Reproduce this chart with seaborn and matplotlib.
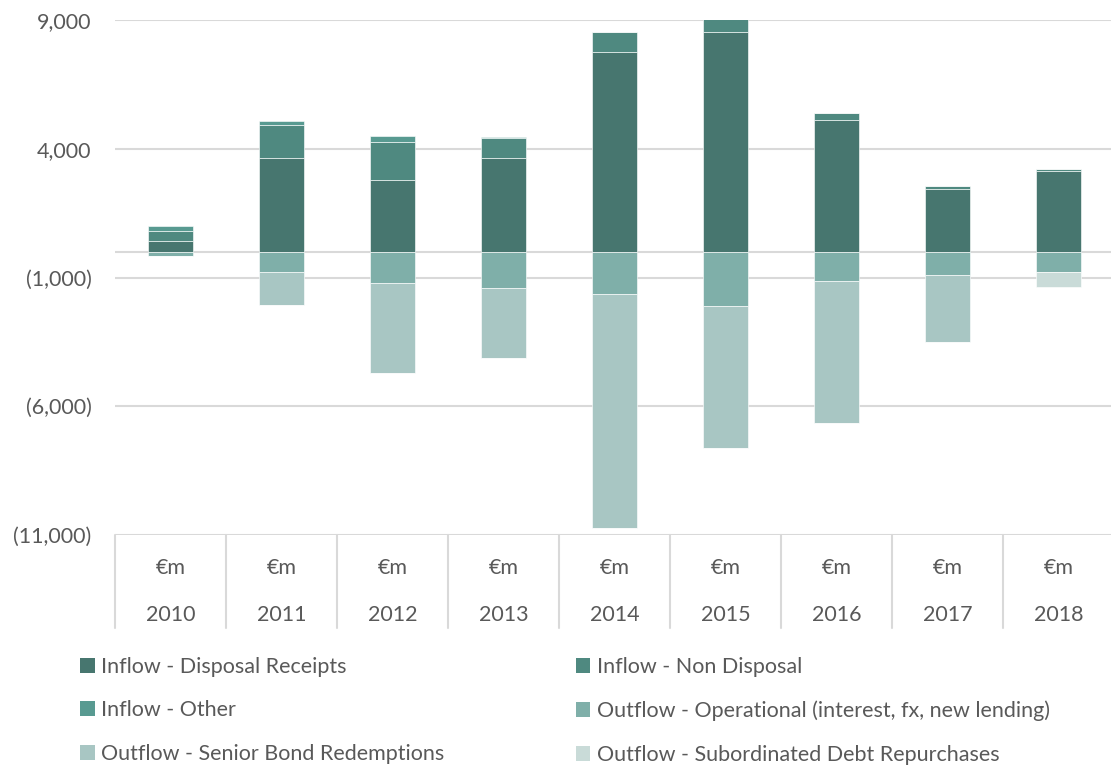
import matplotlib
matplotlib.use("Agg")
import matplotlib.pyplot as plt
import matplotlib.transforms as mtransforms
from matplotlib.patches import Patch
from matplotlib.ticker import FuncFormatter
import numpy as np
import pandas as pd
import seaborn as sns

# Annual cash flows, €m
years = ["2010", "2011", "2012", "2013", "2014", "2015", "2016", "2017", "2018"]
unit_label = "€m"

inflow_disposal = [400, 3640, 2790, 3650, 7750, 8550, 5100, 2440, 3120]
inflow_non_disposal = [400, 1300, 1480, 780, 800, 580, 280, 130, 100]
inflow_other = [200, 120, 220, 40, 0, 0, 0, 0, 0]
outflow_operational = [-180, -800, -1200, -1400, -1630, -2100, -1130, -890, -780]
outflow_senior = [0, -1280, -3500, -2720, -9090, -5515, -5515, -2600, 0]
outflow_subordinated = [0, 0, 0, 0, 0, 0, 0, 0, -570]

series_names = [
    "Inflow - Disposal Receipts",
    "Inflow - Non Disposal",
    "Inflow - Other",
    "Outflow - Operational (interest, fx, new lending)",
    "Outflow - Senior Bond Redemptions",
    "Outflow - Subordinated Debt Repurchases",
]
series_values = [inflow_disposal, inflow_non_disposal, inflow_other,
                 outflow_operational, outflow_senior, outflow_subordinated]
series_colors = ["#47766F", "#4F8980", "#589A91", "#7FAFA9", "#A8C6C3", "#C9DBD8"]

sns.set_style("white")
plt.rcParams["font.family"] = ["Lato", "DejaVu Sans"]
text_color = "#595959"
grid_color = "#D9D9D9"
fs = 15.5

fig = plt.figure(figsize=(11.11, 7.69), dpi=100)
ax = fig.add_axes([115 / 1111, 234 / 769, 999 / 1111, 515 / 769])

# Stack positives upward and negatives downward from zero
pos_base = np.zeros(len(years))
neg_base = np.zeros(len(years))
for name, vals, col in zip(series_names, series_values, series_colors):
    vals = np.asarray(vals, dtype=float)
    positive = vals.sum() >= 0
    base = pos_base if positive else neg_base
    df = pd.DataFrame({"year": years, "value": vals})
    sns.barplot(data=df, x="year", y="value", bottom=base.copy(), color=col,
                width=0.4, edgecolor=(1, 1, 1, 0.6), linewidth=0.7, ax=ax,
                saturation=1, zorder=3)
    if positive:
        pos_base = pos_base + vals
    else:
        neg_base = neg_base + vals

ax.set_ylim(-11000, 9000)
ax.set_xlim(-0.5, len(years) - 0.5)
ax.set_yticks(np.arange(-11000, 9001, 5000))
ax.yaxis.set_major_formatter(FuncFormatter(
    lambda v, p: f"({abs(v):,.0f})" if v < 0 else f"{v:,.0f}"))
ax.tick_params(axis="y", length=0, pad=17, labelsize=fs, labelcolor=text_color)
ax.grid(axis="y", color=grid_color, linewidth=1.5, zorder=0)
ax.axhline(0, color=grid_color, linewidth=1.5, zorder=2)
for s in ax.spines.values():
    s.set_visible(False)
ax.set_xticks([])
ax.set_xlabel("")
ax.set_ylabel("")

# Two-level category axis with separators
trans = mtransforms.blended_transform_factory(ax.transData, ax.transAxes)
for i, yr in enumerate(years):
    ax.text(i, -0.064, unit_label, transform=trans, ha="center", va="center",
            fontsize=fs, color=text_color)
    ax.text(i, -0.155, yr, transform=trans, ha="center", va="center",
            fontsize=fs, color=text_color)
for xb in np.arange(-0.5, len(years), 1.0):
    ax.plot([xb, xb], [0, -0.181], transform=trans, color=grid_color,
            linewidth=1.5, clip_on=False)

# Legend in two columns
handles = [Patch(facecolor=c, edgecolor="none") for c in series_colors]
order = [0, 2, 4, 1, 3, 5]
fig.legend([handles[i] for i in order], [series_names[i] for i in order],
           ncol=2, loc="upper left", bbox_to_anchor=(0.072, 0.146),
           frameon=False, fontsize=fs, labelcolor=text_color,
           handlelength=0.68, handleheight=0.68, handletextpad=0.3,
           labelspacing=1.1, columnspacing=6.1, borderpad=0,
           borderaxespad=0)

fig.savefig("out.png", dpi=100)
